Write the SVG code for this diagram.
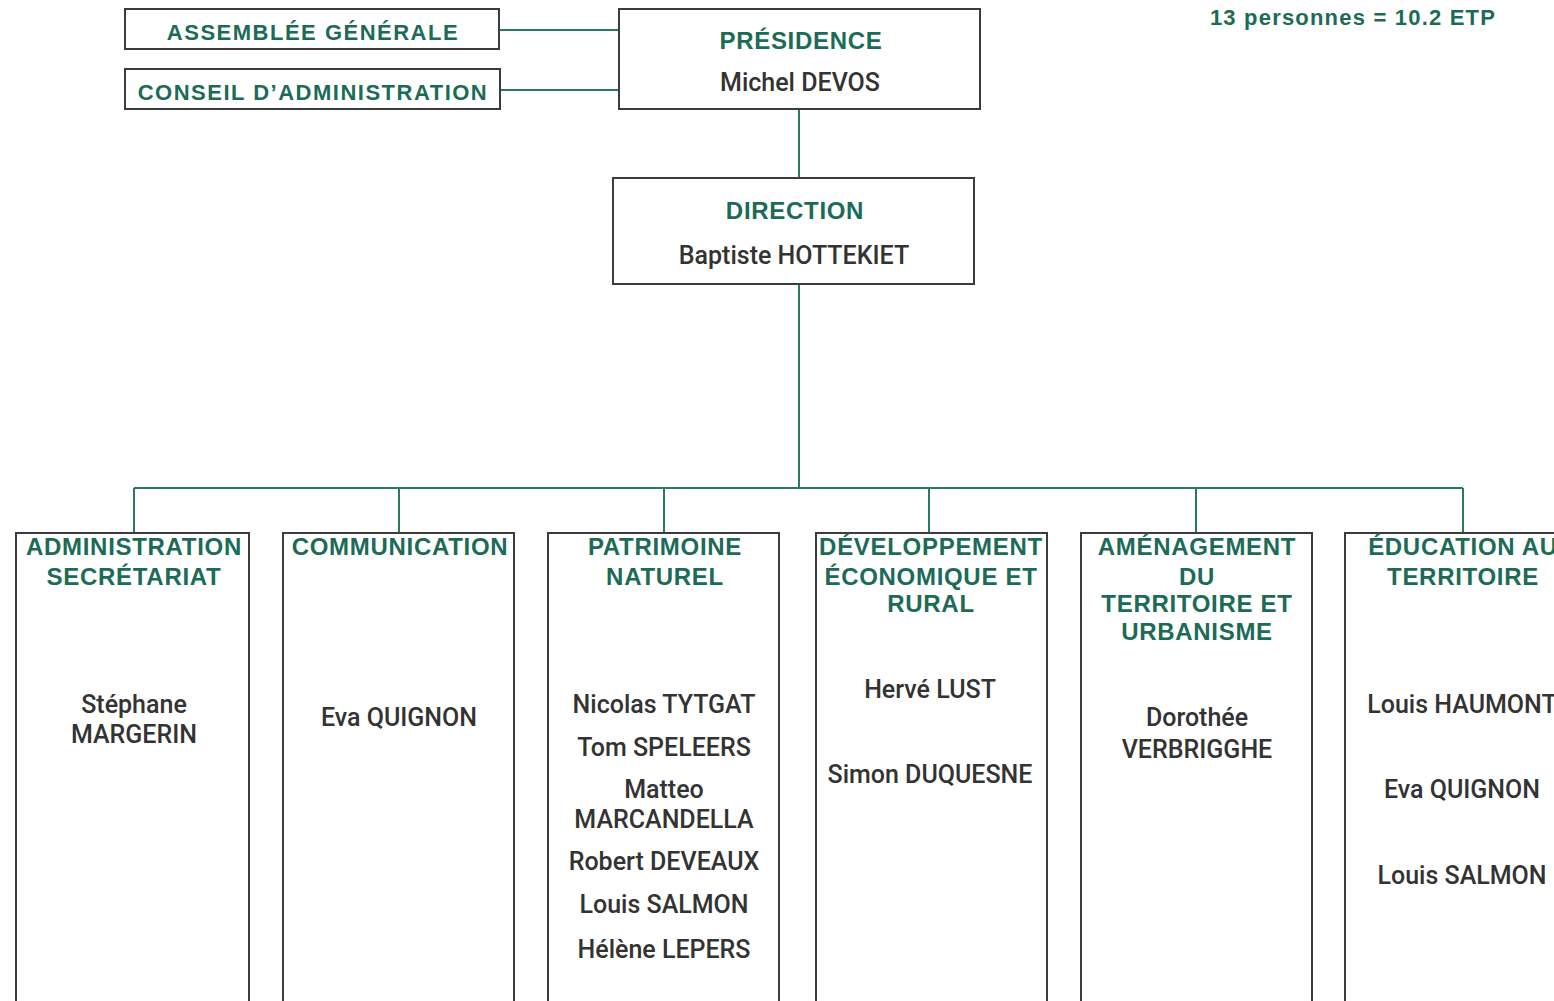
<svg xmlns="http://www.w3.org/2000/svg" width="1554" height="1001" viewBox="0 0 1554 1001">
<style>
.box{fill:#fff;stroke:#3c3c3c;stroke-width:2}
.conn{fill:none;stroke:#2a7a60;stroke-width:2}
.h{font-family:"Liberation Sans",Arial,sans-serif;font-weight:bold;font-size:24px;letter-spacing:0.7px;fill:#1c6b56;text-anchor:middle}
.ht{font-size:22px;letter-spacing:1.5px}
.tot{font-size:22px;letter-spacing:1.2px}
.n{font-family:Roboto,"Liberation Sans",sans-serif;font-size:25px;font-weight:500;fill:#333;text-anchor:middle}
</style>
<rect width="1554" height="1001" fill="#fff"/>
<g id="connectors">
<path class="conn" d="M499 30H619M500 90H622M799 109V178M799 284V488M134 488H1463M134 488V533M399 488V533M664 488V533M929 488V533M1196 488V533M1463 488V533"/>
</g>
<g id="ag"><rect class="box" x="125" y="9" width="374" height="40"/><text class="h ht" x="313" y="40">ASSEMBLÉE GÉNÉRALE</text></g>
<g id="ca"><rect class="box" x="125" y="69" width="375" height="40"/><text class="h ht" x="313" y="100">CONSEIL D’ADMINISTRATION</text></g>
<g id="presidence"><rect class="box" x="619" y="9" width="361" height="100"/><text class="h" x="801" y="49">PRÉSIDENCE</text><text class="n" x="800" y="91">Michel DEVOS</text></g>
<g id="direction"><rect class="box" x="613" y="178" width="361" height="106"/><text class="h" x="795" y="219">DIRECTION</text><text class="n" x="794" y="264">Baptiste HOTTEKIET</text></g>
<g id="total"><text class="h tot" x="1353" y="25">13 personnes = 10.2 ETP</text></g>
<g id="admin"><rect class="box" x="16" y="533" width="233" height="480"/><text class="h" x="134" y="555">ADMINISTRATION</text><text class="h" x="134" y="585">SECRÉTARIAT</text><text class="n" x="134" y="713">Stéphane</text><text class="n" x="134" y="743">MARGERIN</text></g>
<g id="communication"><rect class="box" x="283" y="533" width="231" height="480"/><text class="h" x="400" y="555">COMMUNICATION</text><text class="n" x="399" y="726">Eva QUIGNON</text></g>
<g id="patrimoine"><rect class="box" x="548" y="533" width="231" height="480"/><text class="h" x="665" y="555">PATRIMOINE</text><text class="h" x="665" y="585">NATUREL</text>
<text class="n" x="664" y="713">Nicolas TYTGAT</text><text class="n" x="664" y="756">Tom SPELEERS</text><text class="n" x="664" y="798">Matteo</text><text class="n" x="664" y="828">MARCANDELLA</text><text class="n" x="664" y="870">Robert DEVEAUX</text><text class="n" x="664" y="913">Louis SALMON</text><text class="n" x="664" y="958">Hélène LEPERS</text></g>
<g id="developpement"><rect class="box" x="816" y="533" width="231" height="480"/><text class="h" x="931" y="555">DÉVELOPPEMENT</text><text class="h" x="931" y="585">ÉCONOMIQUE ET</text><text class="h" x="931" y="612">RURAL</text><text class="n" x="930" y="698">Hervé LUST</text><text class="n" x="930" y="783">Simon DUQUESNE</text></g>
<g id="amenagement"><rect class="box" x="1081" y="533" width="231" height="480"/><text class="h" x="1197" y="555">AMÉNAGEMENT</text><text class="h" x="1197" y="585">DU</text><text class="h" x="1197" y="612">TERRITOIRE ET</text><text class="h" x="1197" y="640">URBANISME</text><text class="n" x="1197" y="726">Dorothée</text><text class="n" x="1197" y="758">VERBRIGGHE</text></g>
<g id="education"><rect class="box" x="1345" y="533" width="235" height="480"/><text class="h" x="1463" y="555">ÉDUCATION AU</text><text class="h" x="1463" y="585">TERRITOIRE</text><text class="n" x="1462" y="713">Louis HAUMONT</text><text class="n" x="1462" y="798">Eva QUIGNON</text><text class="n" x="1462" y="884">Louis SALMON</text></g>
</svg>
